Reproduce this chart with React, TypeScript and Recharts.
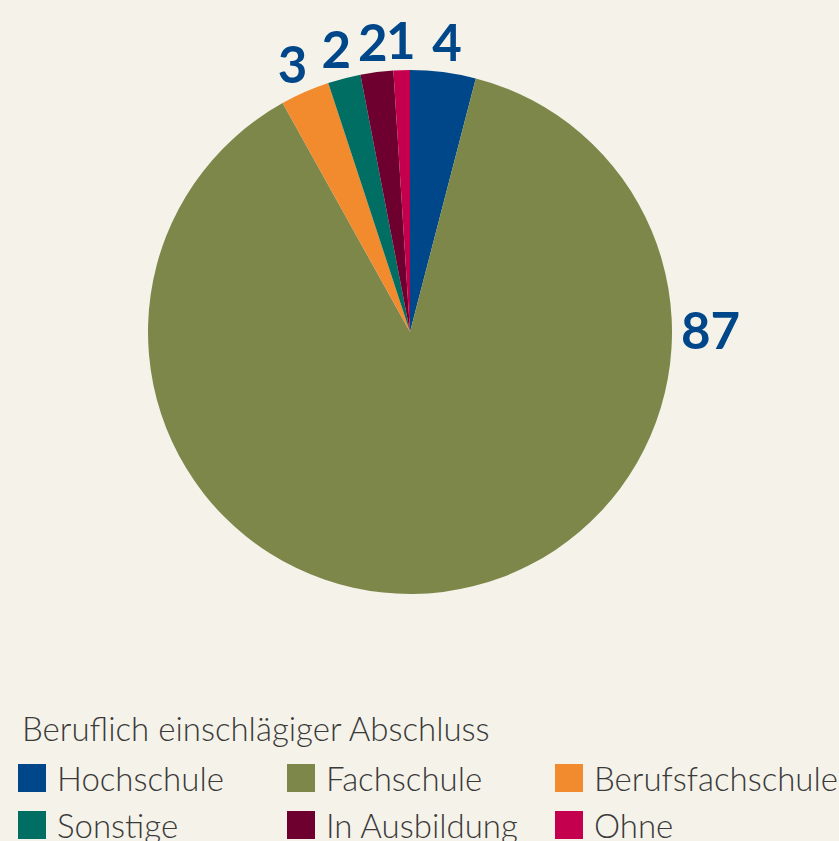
import { PieChart, Pie, Cell, Legend } from "recharts";

const categories = ["Hochschule", "Fachschule", "Berufsfachschule", "Sonstige", "In Ausbildung", "Ohne"];
const values = [4, 87, 3, 2, 2, 1];
const colors = ["#00478a", "#7d8749", "#f28a2e", "#006e62", "#6e0030", "#c4004e"];
const legendTitle = "Beruflich einschlägiger Abschluss";

const data = categories.map((name, i) => ({ name, value: values[i], color: colors[i] }));

const RAD = Math.PI / 180;

function renderLabel(props: any) {
  const { cx, cy, midAngle, outerRadius, percent, value } = props;
  // the big slice gets its number at the right edge instead of the middle
  if (percent > 0.5) {
    return (
      <text x={cx + outerRadius + 9} y={cy - 3} textAnchor="start" dominantBaseline="central"
        fill="#00478a" fontSize={51} fontWeight={700} fontFamily="Lato">
        {value}
      </text>
    );
  }
  const r = outerRadius + 31;
  const x = cx + r * Math.cos(-midAngle * RAD);
  const y = cy + r * Math.sin(-midAngle * RAD);
  return (
    <text x={x} y={y} textAnchor="middle" dominantBaseline="central"
      fill="#00478a" fontSize={51} fontWeight={700} fontFamily="Lato">
      {value}
    </text>
  );
}

function LegendContent() {
  const colX = [18, 287, 555];
  return (
    <div style={{ position: "relative", width: 839, height: 140, fontFamily: "Lato", fontWeight: 300, color: "#3a3a3a" }}>
      <div style={{ position: "absolute", left: 22, top: 0, fontSize: 33, lineHeight: "40px", whiteSpace: "nowrap" }}>{legendTitle}</div>
      {data.map((d, i) => {
        const col = i % 3;
        const row = Math.floor(i / 3);
        return (
          <div key={d.name} style={{ position: "absolute", left: colX[col], top: 50 + row * 47, display: "flex", alignItems: "center", height: 40 }}>
            <div style={{ width: 28, height: 28, background: d.color, marginRight: 11 }} />
            <span style={{ fontSize: 33, lineHeight: "40px", whiteSpace: "nowrap" }}>{d.name}</span>
          </div>
        );
      })}
    </div>
  );
}

export default function App() {
  return (
    <div style={{ position: "fixed", left: 0, top: 0, width: 839, height: 841, background: "#f5f2e9", overflow: "hidden" }}>
      <PieChart width={839} height={841} margin={{ top: 0, right: 0, bottom: 0, left: 0 }}>
        <Pie
          data={data}
          dataKey="value"
          cx={410}
          cy={332}
          outerRadius={262}
          startAngle={90}
          endAngle={-270}
          stroke="none"
          label={renderLabel}
          labelLine={false}
          isAnimationActive={false}
        >
          {data.map((d) => (
            <Cell key={d.name} fill={d.color} />
          ))}
        </Pie>
        <Legend content={<LegendContent />} wrapperStyle={{ position: "absolute", left: 0, top: 708, width: 839 }} />
      </PieChart>
    </div>
  );
}
